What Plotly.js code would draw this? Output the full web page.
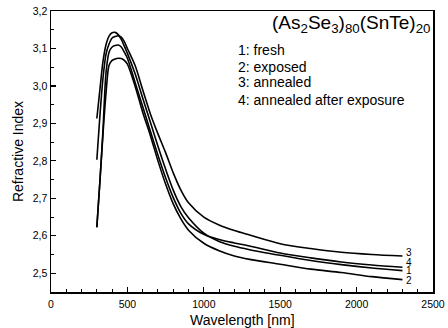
<!DOCTYPE html>
<html>
<head>
<meta charset="utf-8">
<script src="https://cdn.plot.ly/plotly-3.0.1.min.js"></script>
<style>html,body{margin:0;padding:0;background:#fff}#chart{width:448px;height:328px}</style>
</head>
<body>
<div id="chart"></div>
<script>
const wavelength = [300, 320, 340, 360, 380, 400, 420, 440, 460, 480, 500, 550, 600, 650, 700, 750, 800, 850, 900, 1000, 1100, 1200, 1300, 1500, 1700, 1900, 2100, 2300];
const fresh    = [2.913, 2.990, 3.065, 3.110, 3.133, 3.142, 3.143, 3.137, 3.124, 3.106, 3.087, 3.033, 2.968, 2.904, 2.839, 2.778, 2.722, 2.678, 2.648, 2.607, 2.585, 2.572, 2.563, 2.548, 2.534, 2.523, 2.514, 2.507];
const exposed  = [2.623, 2.745, 2.870, 2.980, 3.055, 3.068, 3.072, 3.074, 3.073, 3.068, 3.058, 3.000, 2.930, 2.868, 2.800, 2.738, 2.685, 2.645, 2.615, 2.580, 2.560, 2.546, 2.537, 2.524, 2.511, 2.502, 2.491, 2.483];
const annealed = [2.803, 2.920, 3.020, 3.085, 3.112, 3.128, 3.132, 3.134, 3.130, 3.118, 3.100, 3.055, 2.990, 2.926, 2.872, 2.822, 2.768, 2.722, 2.688, 2.650, 2.629, 2.614, 2.602, 2.579, 2.566, 2.556, 2.550, 2.546];
const annealedAfter = [2.623, 2.745, 2.880, 3.035, 3.090, 3.104, 3.108, 3.109, 3.104, 3.090, 3.074, 3.010, 2.945, 2.880, 2.815, 2.755, 2.702, 2.660, 2.632, 2.604, 2.590, 2.581, 2.573, 2.554, 2.541, 2.530, 2.522, 2.516];

const seriesValues = [fresh, exposed, annealed, annealedAfter];
const seriesNumbers = ["1", "2", "3", "4"];
const legendLines = ["1: fresh", "2: exposed", "3: annealed", "4: annealed after exposure"];
const endLabelY = [2.508, 2.481, 2.556, 2.530];
const xTickVals = [0, 500, 1000, 1500, 2000, 2500];
const yTickVals = [2.5, 2.6, 2.7, 2.8, 2.9, 3.0, 3.1, 3.2];
const yTickText = ["2,5", "2,6", "2,7", "2,8", "2,9", "3,0", "3,1", "3,2"];

const FONT = "Liberation Sans, Arial, sans-serif";

const traces = seriesValues.map((vals, i) => ({
  x: wavelength, y: vals, type: "scatter", mode: "lines",
  name: seriesNumbers[i],
  line: {color: "#000", width: 1.6, shape: "spline", smoothing: 0.8},
  hoverinfo: "skip"
}));

const annotations = [];
seriesNumbers.forEach((n, i) => {
  annotations.push({x: 2340, y: endLabelY[i], xref: "x", yref: "y", text: n, showarrow: false,
    xanchor: "center", yanchor: "middle", font: {family: FONT, size: 10, color: "#000"}});
});
const legY = [0.861, 0.802, 0.748, 0.685];
legendLines.forEach((t, i) => {
  annotations.push({x: 0.484, y: legY[i], xref: "paper", yref: "paper", text: t, showarrow: false,
    xanchor: "left", yanchor: "middle", font: {family: FONT, size: 14, color: "#000"}});
});
annotations.push({x: 0.997, y: 0.952, xref: "paper", yref: "paper",
  text: "(As<sub>2</sub>Se<sub>3</sub>)<sub>80</sub>(SnTe)<sub>20</sub>", showarrow: false,
  xanchor: "right", yanchor: "middle", font: {family: FONT, size: 19, color: "#000"}});
annotations.push({x: 0.5, y: -0.1, xref: "paper", yref: "paper", text: "Wavelength [nm]", showarrow: false,
  xanchor: "center", yanchor: "middle", font: {family: FONT, size: 14, color: "#000"}});

const layout = {
  width: 448, height: 328,
  margin: {l: 51, r: 15, t: 11, b: 36, pad: 0},
  paper_bgcolor: "#fff", plot_bgcolor: "#fff",
  showlegend: false,
  separators: ", ",
  font: {family: FONT, color: "#000"},
  xaxis: {
    range: [0, 2500], tickvals: xTickVals, ticks: "inside", ticklen: 5, tickwidth: 1.2, tickcolor: "#000",
    minor: {dtick: 100, tick0: 0, ticks: "inside", ticklen: 3, tickwidth: 1, tickcolor: "#000"},
    showgrid: false, zeroline: false, showline: true, linecolor: "#000", linewidth: 1.5, mirror: true,
    tickfont: {family: FONT, size: 10.5, color: "#000"}, ticklabelstandoff: 2
  },
  yaxis: {
    range: [2.45, 3.2], tickvals: yTickVals, ticktext: yTickText, ticks: "inside", ticklen: 5, tickwidth: 1.2, tickcolor: "#000",
    minor: {dtick: 0.05, tick0: 2.45, ticks: "inside", ticklen: 3, tickwidth: 1, tickcolor: "#000"},
    showgrid: false, zeroline: false, showline: true, linecolor: "#000", linewidth: 1.5, mirror: true,
    tickfont: {family: FONT, size: 10.5, color: "#000"},
    title: {text: "Refractive Index", font: {family: FONT, size: 14, color: "#000"}, standoff: 6}
  },
  annotations: annotations
};

Plotly.newPlot("chart", traces, layout, {staticPlot: true, displayModeBar: false});
</script>
</body>
</html>
